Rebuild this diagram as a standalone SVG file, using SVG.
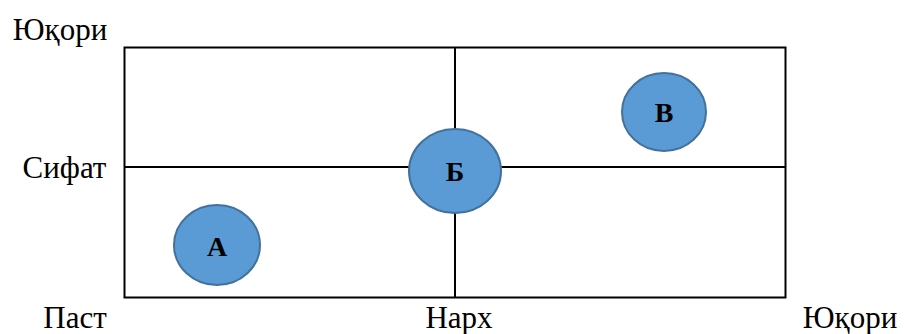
<svg xmlns="http://www.w3.org/2000/svg" width="904" height="334" viewBox="0 0 904 334">
<style>
.ax{fill:none;stroke:#000;stroke-width:2}
.lbl{font-family:"Liberation Serif","DejaVu Serif",serif;font-size:31px;fill:#000;text-anchor:middle}
.bub{fill:#5b9bd5;stroke:#41719c;stroke-width:2}
.bt{font-family:"Liberation Serif","DejaVu Serif",serif;font-size:28px;font-weight:bold;fill:#000;text-anchor:middle}
</style>
<rect width="904" height="334" fill="#fff"/>
<g id="connectors">
<rect class="ax" x="124.5" y="47.5" width="661" height="250"/>
<line class="ax" x1="455" y1="47.5" x2="455" y2="297.5"/>
<line class="ax" x1="124.5" y1="167" x2="785.5" y2="167"/>
</g>
<g id="labels">
<text class="lbl" x="60" y="40">Юқори</text>
<text class="lbl" x="64.5" y="178">Сифат</text>
<text class="lbl" x="75" y="328">Паст</text>
<text class="lbl" x="459" y="328">Нарх</text>
<text class="lbl" x="850" y="328">Юқори</text>
</g>
<g id="node-A">
<ellipse class="bub" cx="217" cy="245" rx="43" ry="40"/>
<text class="bt" x="217" y="256">А</text>
</g>
<g id="node-B">
<ellipse class="bub" cx="455" cy="171" rx="46" ry="42"/>
<text class="bt" x="455" y="181">Б</text>
</g>
<g id="node-V">
<ellipse class="bub" cx="664" cy="112" rx="42" ry="39"/>
<text class="bt" x="664" y="122">В</text>
</g>
</svg>
